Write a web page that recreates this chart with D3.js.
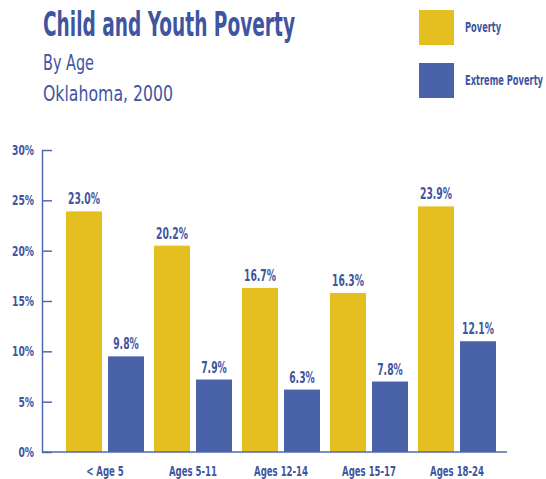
<!DOCTYPE html>
<html>
<head>
<meta charset="utf-8">
<script src="https://cdn.jsdelivr.net/npm/d3@7"></script>
<style>
  html, body { margin: 0; padding: 0; background: #ffffff; }
  svg { display: block; }
  text { font-family: 'DejaVu Sans Condensed', 'DejaVu Sans', sans-serif; fill: #3f55a0; }
</style>
</head>
<body>
<svg id="chart" width="546" height="479"></svg>
<script>
// ---- data ----
const categories = ["< Age 5", "Ages 5-11", "Ages 12-14", "Ages 15-17", "Ages 18-24"];
const seriesNames = ["Poverty", "Extreme Poverty"];
// bar heights as drawn in the picture (percent)
const povertyValues = [23.9, 20.5, 16.3, 15.8, 24.4];
const extremeValues = [9.5, 7.2, 6.2, 7.0, 11.0];
// value labels as printed in the picture
const povertyLabels = ["23.0%", "20.2%", "16.7%", "16.3%", "23.9%"];
const extremeLabels = ["9.8%", "7.9%", "6.3%", "7.8%", "12.1%"];
const yTicks = [0, 5, 10, 15, 20, 25, 30];

const colors = { "Poverty": "#e4bf1f", "Extreme Poverty": "#4a62a8" };
const textColor = "#3f55a0";
const axisColor = "#5068ad";

const svg = d3.select("#chart");

// condense texts horizontally: factor derived from a reference string's target width
function condense(sel, refText, refWidth) {
  let factor = null;
  sel.each(function() {
    if (factor === null && this.textContent === refText) factor = refWidth / this.getComputedTextLength();
  });
  if (factor === null) factor = 0.72;
  sel.each(function() {
    const len = this.getComputedTextLength();
    d3.select(this).attr("textLength", len * factor).attr("lengthAdjust", "spacingAndGlyphs");
  });
}

const x = d3.scaleBand().domain(categories).range([66, 496]).paddingInner(10 / 88).paddingOuter(0);
const xs = d3.scaleBand().domain(seriesNames).range([0, x.bandwidth()]).paddingInner(6 / 42).paddingOuter(0);
const y = d3.scaleLinear().domain([0, 30]).range([452, 150]);

const rows = categories.map((c, i) => ({
  cat: c,
  vals: [
    { s: "Poverty", v: povertyValues[i], label: povertyLabels[i] },
    { s: "Extreme Poverty", v: extremeValues[i], label: extremeLabels[i] }
  ]
}));

// bars
const g = svg.append("g").selectAll("g").data(rows).join("g")
  .attr("transform", d => `translate(${x(d.cat)},0)`);
g.selectAll("rect").data(d => d.vals).join("rect")
  .attr("x", d => xs(d.s))
  .attr("y", d => y(d.v))
  .attr("width", xs.bandwidth())
  .attr("height", d => y(0) - y(d.v))
  .attr("fill", d => colors[d.s]);
g.selectAll("text.val").data(d => d.vals).join("text")
  .attr("class", "val")
  .attr("x", d => xs(d.s) + xs.bandwidth() / 2)
  .attr("y", d => y(d.v) - 7)
  .attr("text-anchor", "middle")
  .style("font-size", "16.5px")
  .style("font-weight", "bold")
  .text(d => d.label);
condense(svg.selectAll("text.val"), "23.0%", 32);

// y axis
const yAxis = svg.append("g")
  .attr("transform", "translate(42,0)")
  .call(d3.axisLeft(y).tickValues(yTicks).tickFormat(d => d + "%").tickSizeInner(-10).tickSizeOuter(0).tickPadding(8));
yAxis.select(".domain").attr("stroke", axisColor).attr("stroke-width", 1.5);
yAxis.selectAll(".tick line").attr("stroke", axisColor).attr("stroke-width", 1.5);
yAxis.selectAll(".tick text")
  .attr("fill", textColor)
  .style("font-size", "14.5px").style("font-weight", "bold")
  .style("font-family", "'DejaVu Sans Condensed', sans-serif");
condense(yAxis.selectAll(".tick text"), "30%", 22);

// x axis
const xAxis = svg.append("g")
  .attr("transform", `translate(0,${y(0)})`)
  .call(d3.axisBottom(x).tickSize(0).tickPadding(14));
xAxis.select(".domain").remove();
xAxis.selectAll(".tick text")
  .attr("fill", textColor)
  .style("font-size", "14px").style("font-weight", "bold")
  .style("font-family", "'DejaVu Sans Condensed', sans-serif");
condense(xAxis.selectAll(".tick text"), "Ages 5-11", 48);
svg.append("line")
  .attr("x1", 42).attr("x2", 507)
  .attr("y1", y(0)).attr("y2", y(0))
  .attr("stroke", axisColor).attr("stroke-width", 1.5);

// title
svg.append("text").attr("x", 43).attr("y", 36)
  .style("font-size", "34px").style("font-weight", "bold")
  .attr("textLength", 252).attr("lengthAdjust", "spacingAndGlyphs")
  .text("Child and Youth Poverty");
svg.append("text").attr("x", 43).attr("y", 70)
  .style("font-size", "21px")
  .attr("textLength", 51).attr("lengthAdjust", "spacingAndGlyphs")
  .text("By Age");
svg.append("text").attr("x", 43).attr("y", 101)
  .style("font-size", "21px")
  .attr("textLength", 130).attr("lengthAdjust", "spacingAndGlyphs")
  .text("Oklahoma, 2000");

// legend
const legend = svg.append("g").selectAll("g").data(seriesNames).join("g")
  .attr("transform", (d, i) => `translate(419,${10 + i * 53})`);
legend.append("rect").attr("width", 35).attr("height", 35).attr("fill", d => colors[d]);
legend.append("text").attr("class", "leg").attr("x", 46).attr("y", 22)
  .style("font-size", "14.5px").style("font-weight", "bold")
  .text(d => d);
condense(svg.selectAll("text.leg"), "Extreme Poverty", 78);
</script>
</body>
</html>
